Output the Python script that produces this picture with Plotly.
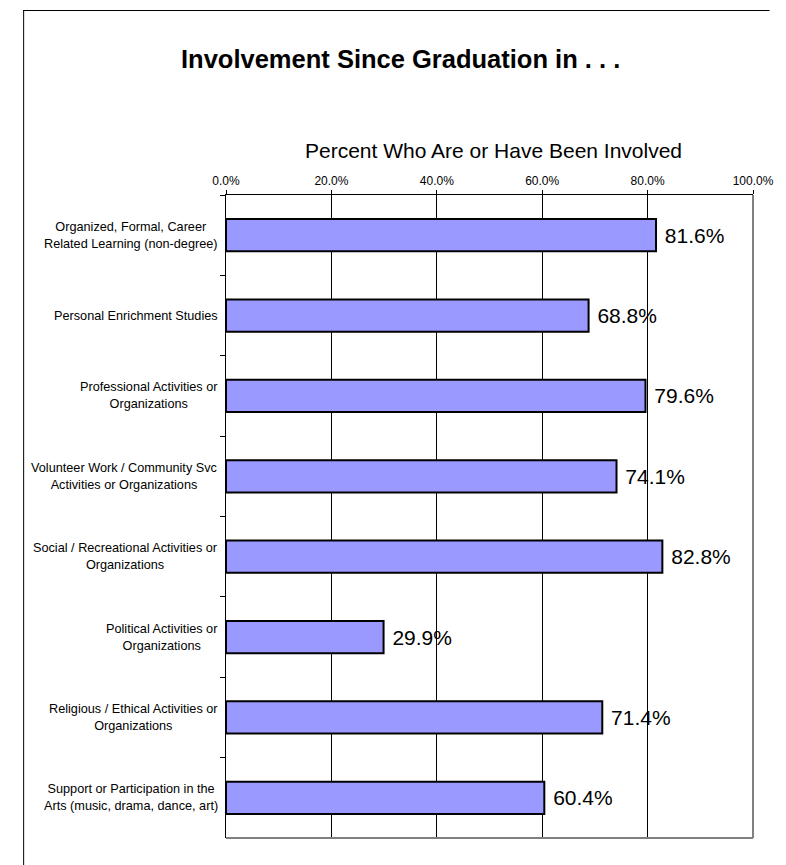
import plotly.graph_objects as go

categories = [
    "Organized, Formal, Career<br>Related Learning (non-degree)",
    "Personal Enrichment Studies",
    "Professional Activities or<br>Organizations",
    "Volunteer Work / Community Svc<br>Activities or Organizations",
    "Social / Recreational Activities or<br>Organizations",
    "Political Activities or<br>Organizations",
    "Religious / Ethical Activities or<br>Organizations",
    "Support or Participation in the<br>Arts (music, drama, dance, art)",
]
values = [81.6, 68.8, 79.6, 74.1, 82.8, 29.9, 71.4, 60.4]

title_text = "Involvement Since Graduation in . . ."
axis_title = "Percent Who Are or Have Been Involved"

W, H = 786, 865
L, R, T, B = 226, 769, 195, 838
pw, ph = R - L, B - T

def px_x(p):  # page px -> paper x
    return (p - L) / pw

def px_y(p):  # page px -> paper y
    return (B - p) / ph

FONT = "Liberation Sans, Arial, sans-serif"

fig = go.Figure(
    go.Bar(
        x=values,
        y=categories,
        orientation="h",
        width=0.4,
        marker=dict(color="#9999FF", line=dict(color="black", width=2)),
        text=[f"\u00a0{v:.1f}%" for v in values],
        textposition="outside",
        textfont=dict(family=FONT, size=21, color="black"),
        cliponaxis=False,
        hoverinfo="skip",
    )
)

annotations = [
    dict(text=f"<b>{title_text}</b>", xref="paper", yref="paper",
         x=px_x(406), y=px_y(59), xanchor="center", yanchor="middle",
         showarrow=False, font=dict(family=FONT, size=25.5, color="black")),
    dict(text=axis_title, xref="paper", yref="paper",
         x=px_x(502), y=px_y(151), xanchor="center", yanchor="middle",
         showarrow=False, font=dict(family=FONT, size=21, color="black")),
]
for c in categories:
    annotations.append(dict(
        text=c, xref="paper", yref="y", x=px_x(220), y=c,
        xanchor="right", yanchor="middle", align="center", showarrow=False,
        font=dict(family=FONT, size=12.7, color="black"),
    ))

shapes = [
    # outer chart frame: top and left edges (right/bottom edges lie outside the window)
    dict(type="line", xref="paper", yref="paper",
         x0=px_x(17), x1=px_x(W), y0=px_y(10.5), y1=px_y(10.5),
         line=dict(color="black", width=1), layer="above"),
    dict(type="line", xref="paper", yref="paper",
         x0=px_x(17.5), x1=px_x(17.5), y0=px_y(10), y1=px_y(H),
         line=dict(color="black", width=1), layer="above"),
    # plot area right and bottom border (gray)
    dict(type="line", xref="paper", yref="paper", x0=1, x1=1, y0=0, y1=1,
         line=dict(color="#808080", width=2), layer="above"),
    dict(type="line", xref="paper", yref="paper", x0=0, x1=1, y0=0, y1=0,
         line=dict(color="#808080", width=2), layer="above"),
]

fig.update_layout(
    width=W, height=H,
    margin=dict(l=L, r=W - R, t=T, b=H - B, pad=0),
    paper_bgcolor="white", plot_bgcolor="white",
    showlegend=False,
    font=dict(family=FONT, color="black"),
    annotations=annotations,
    shapes=shapes,
    xaxis=dict(
        side="top", range=[0, 100], dtick=20, tick0=0,
        tickformat=".1f", ticksuffix="%",
        tickfont=dict(family=FONT, size=12, color="black"),
        ticklabeloverflow="allow",
        showline=True, linecolor="black", linewidth=1,
        ticks="outside", ticklen=4, tickcolor="black", tickwidth=1,
        showgrid=True, gridcolor="black", gridwidth=1,
        zeroline=False, fixedrange=True,
    ),
    yaxis=dict(
        autorange="reversed", showticklabels=False,
        showline=True, linecolor="black", linewidth=1,
        ticks="outside", ticklen=5, tickcolor="black", tickwidth=1,
        tickson="boundaries", showgrid=False, zeroline=False, fixedrange=True,
    ),
)

fig.write_html(
    "out.html",
    config={"displayModeBar": False},
    post_script=(
        "document.body.style.margin='0';"
        "document.body.style.overflow='hidden';"
        "document.documentElement.style.overflow='hidden';"
    ),
)
